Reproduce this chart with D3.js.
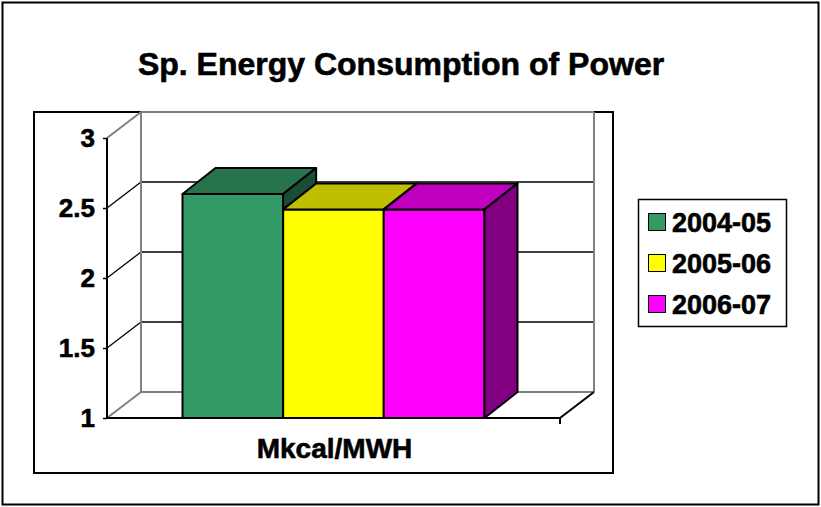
<!DOCTYPE html>
<html>
<head>
<meta charset="utf-8">
<script src="https://cdn.jsdelivr.net/npm/d3@7"></script>
<style>
  body { margin: 0; background: #fff; }
  svg text { font-family: "Liberation Sans", Arial, sans-serif; font-weight: bold; fill: #000;
             stroke: #000; stroke-width: 0.6px; }
</style>
</head>
<body>
<div class="chart"></div>
<script>
// chart data
var categories = ["Mkcal/MWH"];
var series = ["2004-05", "2005-06", "2006-07"];
var values = [2.6, 2.49, 2.49];
var yTicks = [1, 1.5, 2, 2.5, 3];

var fills = ["#339966", "#ffff00", "#ff00ff"];

var width = 821, height = 507;
var depthX = 34, depthY = -26;

var svg = d3.select(".chart").append("svg")
    .attr("width", width)
    .attr("height", height);

// outer border + plot area border
svg.append("rect").attr("x", 2.5).attr("y", 2.5).attr("width", 816).attr("height", 502)
    .attr("fill", "#fff").attr("stroke", "#000").attr("stroke-width", 2);
svg.append("rect").attr("x", 34).attr("y", 112).attr("width", 579).attr("height", 361)
    .attr("fill", "none").attr("stroke", "#000").attr("stroke-width", 2);

// title
svg.append("text").attr("x", 401).attr("y", 75).attr("text-anchor", "middle")
    .style("font-size", "32px").text("Sp. Energy Consumption of Power");

var y = d3.scaleLinear().domain([1, 3]).range([418, 138]);
var x0 = d3.scaleBand().domain(categories).range([107, 560]);
var bw = x0.bandwidth();
var x1 = d3.scaleBand().domain(series)
    .range([x0(categories[0]) + bw / 6, x0(categories[0]) + bw * 5 / 6]);

var xl = x0.range()[0], xr = x0.range()[1];
var yMin = y(1), yMax = y(3);

var walls = svg.append("g");
// back wall gridlines and left wall diagonals
yTicks.forEach(function(t) {
  var edge = (t === 1 || t === 3);
  var col = edge ? "#808080" : "#000";
  var sw = edge ? 2 : 1.3;
  walls.append("line")
      .attr("x1", xl + depthX).attr("x2", xr + depthX)
      .attr("y1", y(t) + depthY).attr("y2", y(t) + depthY)
      .attr("stroke", col).attr("stroke-width", sw);
  walls.append("line")
      .attr("x1", xl).attr("y1", y(t))
      .attr("x2", xl + depthX).attr("y2", y(t) + depthY)
      .attr("stroke", col).attr("stroke-width", sw);
});
// back wall vertical edges
[xl + depthX, xr + depthX].forEach(function(xx) {
  walls.append("line").attr("x1", xx).attr("x2", xx)
      .attr("y1", yMax + depthY).attr("y2", yMin + depthY)
      .attr("stroke", "#808080").attr("stroke-width", 2);
});
// floor right edge
walls.append("line").attr("x1", xr).attr("y1", yMin)
    .attr("x2", xr + depthX).attr("y2", yMin + depthY)
    .attr("stroke", "#000").attr("stroke-width", 2);

// bars, left to right so later bars hide earlier side faces
var bars = svg.append("g").selectAll("g").data(series).enter().append("g");
bars.each(function(s, i) {
  var g = d3.select(this);
  var bx = x1(s), bwid = x1.bandwidth();
  var top = y(values[i]), base = y(1);
  var c = d3.color(fills[i]);
  var topCol = d3.rgb(c.r * 0.75, c.g * 0.75, c.b * 0.75);
  var sideCol = d3.rgb(c.r * 0.5, c.g * 0.5, c.b * 0.5);
  var dx = depthX - 1, dy = depthY;
  g.append("path")
      .attr("d", "M" + [bx, top] + "L" + [bx + bwid, top] + "L" + [bx + bwid, base] + "L" + [bx, base] + "Z")
      .attr("fill", fills[i]).attr("stroke", "#000").attr("stroke-width", 2).attr("stroke-linejoin", "round");
  g.append("path")
      .attr("d", "M" + [bx, top] + "L" + [bx + dx, top + dy] + "L" + [bx + bwid + dx, top + dy] + "L" + [bx + bwid, top] + "Z")
      .attr("fill", topCol).attr("stroke", "#000").attr("stroke-width", 2).attr("stroke-linejoin", "round");
  g.append("path")
      .attr("d", "M" + [bx + bwid, top] + "L" + [bx + bwid + dx, top + dy] + "L" + [bx + bwid + dx, base + dy] + "L" + [bx + bwid, base] + "Z")
      .attr("fill", sideCol).attr("stroke", "#000").attr("stroke-width", 2).attr("stroke-linejoin", "round");
});

// front floor edge and category tick
svg.append("line").attr("x1", xl).attr("x2", xr).attr("y1", yMin).attr("y2", yMin)
    .attr("stroke", "#000").attr("stroke-width", 2);
svg.append("line").attr("x1", xr).attr("x2", xr).attr("y1", yMin).attr("y2", yMin + 6)
    .attr("stroke", "#000").attr("stroke-width", 2);

// value axis
var yAxis = d3.axisLeft(y).tickValues(yTicks).tickSize(4).tickPadding(8)
    .tickFormat(d3.format(""));
var ag = svg.append("g").attr("transform", "translate(" + xl + ",0)").call(yAxis);
ag.select(".domain").attr("stroke", "#000").attr("stroke-width", 2).attr("d", "M0," + yMax + "V" + yMin);
ag.selectAll(".tick line").attr("stroke", "#000").attr("stroke-width", 1.5);
ag.selectAll(".tick text").style("font-size", "26px").attr("dy", "0.34em");

// category label
svg.append("text").attr("x", x0(categories[0]) + bw / 2 + 1).attr("y", 458).attr("text-anchor", "middle")
    .style("font-size", "28px").text(categories[0]);

// legend
var legend = svg.append("g");
legend.append("rect").attr("x", 638.5).attr("y", 199.5).attr("width", 148).attr("height", 127)
    .attr("fill", "#fff").attr("stroke", "#000").attr("stroke-width", 1.5);
var ly = d3.scalePoint().domain(series).range([222, 304]);
series.forEach(function(s, i) {
  legend.append("rect").attr("x", 648.5).attr("y", ly(s) - 8.5).attr("width", 17).attr("height", 17)
      .attr("fill", fills[i]).attr("stroke", "#000").attr("stroke-width", 1);
  legend.append("text").attr("x", 672).attr("y", ly(s) + 10)
      .style("font-size", "27px").text(s);
});
</script>
</body>
</html>
